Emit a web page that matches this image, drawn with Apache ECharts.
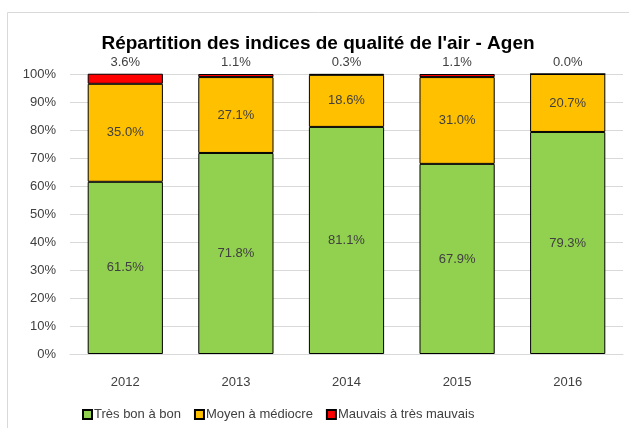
<!DOCTYPE html>
<html>
<head>
<meta charset="utf-8">
<script src="https://cdn.jsdelivr.net/npm/echarts@6/dist/echarts.min.js"></script>
<style>
  html, body { margin: 0; padding: 0; background: #fff; }
  #chart { width: 629px; height: 428px; }
</style>
</head>
<body>
<div id="chart"></div>
<script>
// années
var years = ['2012', '2013', '2014', '2015', '2016'];
// parts en %
var tresBon = [61.5, 71.8, 81.1, 67.9, 79.3];
var moyen = [35.0, 27.1, 18.6, 31.0, 20.7];
var mauvais = [3.6, 1.1, 0.3, 1.1, 0.0];

var font = 'Liberation Sans';
var txt = '#404040';

var chart = echarts.init(document.getElementById('chart'));

function pct(p) { return p.value.toFixed(1) + '%'; }

var option = {
    animation: false,
    textStyle: { fontFamily: font },
    title: {
        text: "Répartition des indices de qualité de l'air - Agen",
        left: 313,
        textAlign: 'center',
        top: 29,
        textStyle: { fontSize: 19, fontWeight: 'bold', color: '#000', fontFamily: font }
    },
    graphic: [{
        type: 'rect',
        shape: { x: 7.5, y: 12.5, width: 640, height: 430 },
        style: { fill: 'none', stroke: '#d9d9d9', lineWidth: 1 },
        silent: true
    }],
    legend: {
        left: 77,
        top: 403,
        itemWidth: 9,
        itemHeight: 9,
        itemGap: 13,
        icon: 'rect',
        textStyle: { fontSize: 13, color: txt, fontFamily: font, padding: [0, 0, 0, -3] },
        data: ['Très bon à bon', 'Moyen à médiocre', 'Mauvais à très mauvais']
    },
    grid: { left: 70, right: 6, top: 74, bottom: 74 },
    xAxis: {
        type: 'category',
        data: years,
        axisTick: { show: false },
        axisLine: { lineStyle: { color: '#d9d9d9' } },
        axisLabel: { fontSize: 13, color: txt, margin: 22, fontFamily: font }
    },
    yAxis: {
        type: 'value',
        min: 0,
        max: 100,
        interval: 10,
        axisLabel: { formatter: '{value}%', fontSize: 13, color: txt, margin: 14, fontFamily: font },
        splitLine: { lineStyle: { color: '#d9d9d9' } },
        axisLine: { show: false },
        axisTick: { show: false }
    },
    series: [
        {
            name: 'Très bon à bon',
            type: 'bar',
            stack: 'total',
            barWidth: '68%',
            data: tresBon,
            itemStyle: { color: '#92d050', borderColor: '#000', borderWidth: 1 },
            label: { show: true, position: 'inside', formatter: pct, fontSize: 13, color: txt, fontFamily: font }
        },
        {
            name: 'Moyen à médiocre',
            type: 'bar',
            stack: 'total',
            data: moyen,
            itemStyle: { color: '#ffc000', borderColor: '#000', borderWidth: 1 },
            label: { show: true, position: 'inside', formatter: pct, fontSize: 13, color: txt, fontFamily: font }
        },
        {
            name: 'Mauvais à très mauvais',
            type: 'bar',
            stack: 'total',
            data: mauvais,
            itemStyle: { color: '#ff0000', borderColor: '#000', borderWidth: 1 },
            label: { show: true, position: 'top', distance: 5, formatter: pct, fontSize: 13, color: txt, fontFamily: font }
        }
    ]
};

chart.setOption(option);
</script>
</body>
</html>
